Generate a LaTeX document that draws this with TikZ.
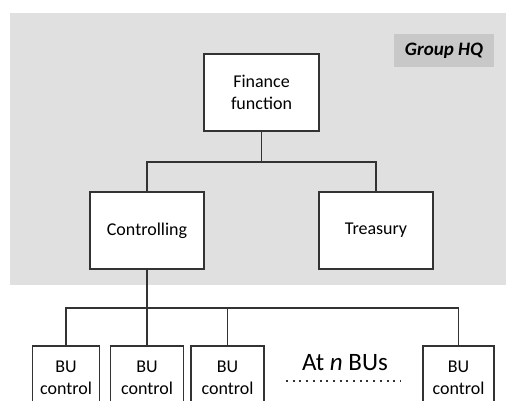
\documentclass[tikz,border=0pt]{standalone}
\usepackage{fontspec}
\setmainfont{Carlito}
\definecolor{hqbg}{HTML}{E0E0E0}
\definecolor{hqtag}{HTML}{C8C8C8}
\definecolor{ink}{HTML}{333333}
\tikzset{
  orgbox/.style={draw=ink, line width=1.5pt, fill=white, align=center,
    font=\fontsize{18}{22}\selectfont, inner sep=2pt},
  link/.style={draw=ink, line width=1.6pt},
}
\begin{document}
\begin{tikzpicture}[x=1pt,y=-1pt]
  \useasboundingbox (0,0) rectangle (506,400);
  \fill[white] (0,0) rectangle (506,400);
  % headquarters area
  \fill[hqbg] (10,13) rectangle (506,285);
  \node[fill=hqtag, minimum width=100pt, minimum height=33pt,
        font=\fontsize{19}{22}\selectfont\bfseries\itshape] (hq) at (444,50.5) {Group HQ};

  % HQ units
  \node[orgbox, minimum width=115pt, minimum height=77pt] (fin) at (261.5,92.5) {Finance\\function};
  \node[orgbox, minimum width=114pt, minimum height=77pt] (ctrl) at (147,230.5) {Controlling};
  \node[orgbox, minimum width=114pt, minimum height=77pt] (treas) at (376,230.5) {Treasury};

  \coordinate (split) at (261.5,162);
  \draw[link] (fin.south) -- (split);
  \draw[link] (split) -| (ctrl.north);
  \draw[link] (split) -| (treas.north);

  % business units
  \node[orgbox, minimum width=67pt, minimum height=64pt] (bu1) at (66,378) {BU\\control};
  \node[orgbox, minimum width=73pt, minimum height=64pt] (bu2) at (147,378) {BU\\control};
  \node[orgbox, minimum width=73pt, minimum height=64pt] (bu3) at (227.5,378) {BU\\control};
  \node[orgbox, minimum width=71pt, minimum height=64pt] (bu4) at (458.5,378) {BU\\control};

  \coordinate (bus) at (147,308);
  \draw[link] (ctrl.south) -- (bus);
  \draw[link] (bus) -| (bu1.north);
  \draw[link] (bus) -- (bu2.north);
  \draw[link] (bus) -| (bu3.north);
  \draw[link] (bus) -| (bu4.north);

  % the remaining units
  \node[font=\fontsize{25}{28}\selectfont, inner sep=0pt] (more) at (345,363) {At \textit{n} BUs};
  \coordinate (dotl) at (286,381);
  \coordinate (dotr) at (400,381);
  \draw[ink, line width=2pt, dash pattern=on 2pt off 4.7pt] (dotl) -- (dotr);
\end{tikzpicture}
\end{document}
